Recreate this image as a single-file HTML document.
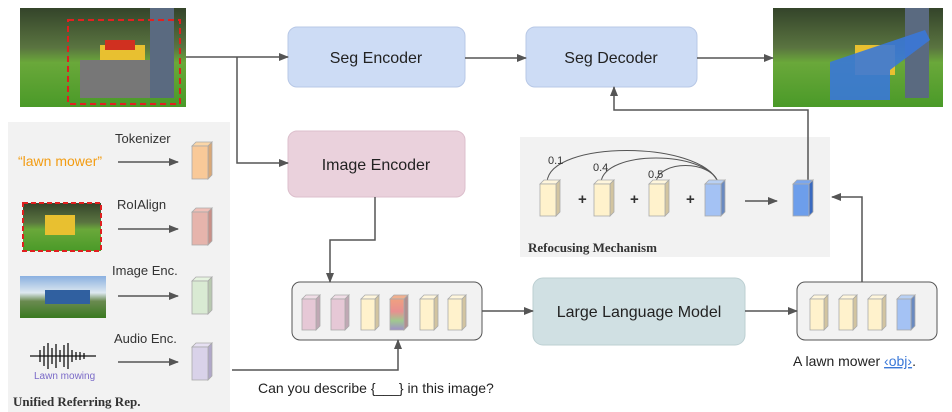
<!DOCTYPE html>
<html><head><meta charset="utf-8"><style>
html,body{margin:0;padding:0;background:#fff;}
svg{display:block;font-family:"Liberation Sans",sans-serif;}
</style></head><body>
<svg width="952" height="412" viewBox="0 0 952 412" xmlns="http://www.w3.org/2000/svg">
<defs>
<marker id="ar" markerWidth="10" markerHeight="8" refX="9" refY="4" orient="auto" markerUnits="userSpaceOnUse">
<path d="M0,0 L10,4 L0,8 Z" fill="#555"/></marker>
<linearGradient id="sky" x1="0" y1="0" x2="0" y2="1">
<stop offset="0" stop-color="#34442a"/><stop offset="0.4" stop-color="#5a7440"/><stop offset="0.55" stop-color="#6aa83a"/><stop offset="1" stop-color="#4a9a28"/></linearGradient>
<linearGradient id="mix" x1="0" y1="0" x2="0" y2="1">
<stop offset="0" stop-color="#f0a080"/><stop offset="0.4" stop-color="#e89090"/><stop offset="0.7" stop-color="#a0c890"/><stop offset="1" stop-color="#a090c8"/></linearGradient>
<linearGradient id="sky2" x1="0" y1="0" x2="0" y2="1">
<stop offset="0" stop-color="#8ab0e0"/><stop offset="0.4" stop-color="#dde8f0"/><stop offset="0.6" stop-color="#6a8a50"/><stop offset="1" stop-color="#3a7a20"/></linearGradient>
</defs>

<rect x="8" y="122" width="222" height="290" fill="#f2f2f2"/>
<rect x="520" y="137" width="310" height="120" fill="#f2f2f2"/>

<rect x="20" y="8" width="166" height="99" fill="url(#sky)"/>
<rect x="100" y="45" width="45" height="30" fill="#e8c030"/>
<rect x="105" y="40" width="30" height="10" fill="#d03020"/>
<rect x="80" y="60" width="80" height="38" fill="#777"/>
<rect x="150" y="8" width="24" height="90" fill="#5a6a80"/>
<rect x="68" y="20" width="112" height="84" fill="none" stroke="#e02020" stroke-width="2" stroke-dasharray="6,4"/>
<rect x="773" y="8" width="170" height="99" fill="url(#sky)"/>
<rect x="855" y="45" width="40" height="30" fill="#e8c030"/>
<rect x="905" y="8" width="24" height="90" fill="#5a6a80"/>
<path d="M830,62 L925,30 L930,40 L890,70 L890,100 L830,100 Z" fill="#3a78d8" opacity="0.9"/>

<rect x="288" y="27" width="177" height="60" rx="9" fill="#cddcf5" stroke="#b8c8e6"/>
<text x="376" y="63" text-anchor="middle" font-size="16" fill="#222">Seg Encoder</text>
<rect x="526" y="27" width="171" height="60" rx="9" fill="#cddcf5" stroke="#b8c8e6"/>
<text x="611" y="63" text-anchor="middle" font-size="16" fill="#222">Seg Decoder</text>
<rect x="288" y="131" width="177" height="66" rx="9" fill="#ead1dc" stroke="#dcbfcc"/>
<text x="376" y="170" text-anchor="middle" font-size="16" fill="#222">Image Encoder</text>
<rect x="533" y="278" width="212" height="67" rx="10" fill="#d0e0e3" stroke="#bccfd2"/>
<text x="639" y="317" text-anchor="middle" font-size="16" fill="#222">Large Language Model</text>
<rect x="292" y="282" width="190" height="58" rx="8" fill="#f2f2f2" stroke="#555"/>
<rect x="797" y="282" width="140" height="58" rx="8" fill="#f2f2f2" stroke="#555"/>

<g stroke="#555" stroke-width="1.5" fill="none">
<line x1="186" y1="57" x2="288" y2="57" marker-end="url(#ar)"/>
<polyline points="237,57 237,163 288,163" marker-end="url(#ar)"/>
<line x1="465" y1="58" x2="526" y2="58" marker-end="url(#ar)"/>
<line x1="697" y1="58" x2="773" y2="58" marker-end="url(#ar)"/>
<polyline points="808,182 808,110 614,110 614,87" marker-end="url(#ar)"/>
<polyline points="862,282 862,197 832,197" marker-end="url(#ar)"/>
<polyline points="375,197 375,240 330,240 330,282" marker-end="url(#ar)"/>
<polyline points="232,370 398,370 398,340" marker-end="url(#ar)"/>
<line x1="482" y1="311" x2="533" y2="311" marker-end="url(#ar)"/>
<line x1="745" y1="311" x2="797" y2="311" marker-end="url(#ar)"/>
<line x1="745" y1="201" x2="777" y2="201" marker-end="url(#ar)"/>
<line x1="118" y1="162" x2="178" y2="162" marker-end="url(#ar)"/>
<line x1="118" y1="229" x2="178" y2="229" marker-end="url(#ar)"/>
<line x1="118" y1="296" x2="178" y2="296" marker-end="url(#ar)"/>
<line x1="118" y1="362" x2="178" y2="362" marker-end="url(#ar)"/>
<path d="M547,182 C550,140 700,140 718,182" stroke="#555" stroke-width="1"/>
<path d="M601,182 C605,150 705,150 718,182" stroke="#555" stroke-width="1"/>
<path d="M656,182 C660,160 710,160 718,182" stroke="#555" stroke-width="1"/>
</g>

<g stroke="#aaa" stroke-width="0.8">
<g transform="translate(192,142)"><path d="M0,4 L4,0 L20,0 L16,4 Z" fill="#fbd6a8"/><path d="M16,4 L20,0 L20,33 L16,37 Z" fill="#d8a878"/><rect x="0" y="4" width="16" height="33" fill="#f9c998"/></g>
<g transform="translate(192,208)"><path d="M0,4 L4,0 L20,0 L16,4 Z" fill="#f0c0b8"/><path d="M16,4 L20,0 L20,33 L16,37 Z" fill="#c89088"/><rect x="0" y="4" width="16" height="33" fill="#e6b4ac"/></g>
<g transform="translate(192,277)"><path d="M0,4 L4,0 L20,0 L16,4 Z" fill="#e6f4e0"/><path d="M16,4 L20,0 L20,33 L16,37 Z" fill="#b8c8b0"/><rect x="0" y="4" width="16" height="33" fill="#d9ead3"/></g>
<g transform="translate(192,343)"><path d="M0,4 L4,0 L20,0 L16,4 Z" fill="#e6e0f2"/><path d="M16,4 L20,0 L20,33 L16,37 Z" fill="#b0a8c8"/><rect x="0" y="4" width="16" height="33" fill="#d9d2e9"/></g>
<g transform="translate(302,295)"><path d="M0,4 L4,0 L18,0 L14,4 Z" fill="#f0dde6"/><path d="M14,4 L18,0 L18,31 L14,35 Z" fill="#c0a8b4"/><rect x="0" y="4" width="14" height="31" fill="#e6c8d6"/></g>
<g transform="translate(331,295)"><path d="M0,4 L4,0 L18,0 L14,4 Z" fill="#f0dde6"/><path d="M14,4 L18,0 L18,31 L14,35 Z" fill="#c0a8b4"/><rect x="0" y="4" width="14" height="31" fill="#e6c8d6"/></g>
<g transform="translate(361,295)"><path d="M0,4 L4,0 L18,0 L14,4 Z" fill="#fff6dc"/><path d="M14,4 L18,0 L18,31 L14,35 Z" fill="#d2c4a0"/><rect x="0" y="4" width="14" height="31" fill="#fff2cc"/></g>
<g transform="translate(390,295)"><path d="M0,4 L4,0 L18,0 L14,4 Z" fill="#f0b090"/><path d="M14,4 L18,0 L18,31 L14,35 Z" fill="#b09090"/><rect x="0" y="4" width="14" height="31" fill="url(#mix)"/></g>
<g transform="translate(420,295)"><path d="M0,4 L4,0 L18,0 L14,4 Z" fill="#fff6dc"/><path d="M14,4 L18,0 L18,31 L14,35 Z" fill="#d2c4a0"/><rect x="0" y="4" width="14" height="31" fill="#fff2cc"/></g>
<g transform="translate(448,295)"><path d="M0,4 L4,0 L18,0 L14,4 Z" fill="#fff6dc"/><path d="M14,4 L18,0 L18,31 L14,35 Z" fill="#d2c4a0"/><rect x="0" y="4" width="14" height="31" fill="#fff2cc"/></g>
<g transform="translate(810,295)"><path d="M0,4 L4,0 L18,0 L14,4 Z" fill="#fff6dc"/><path d="M14,4 L18,0 L18,31 L14,35 Z" fill="#d2c4a0"/><rect x="0" y="4" width="14" height="31" fill="#fff2cc"/></g>
<g transform="translate(839,295)"><path d="M0,4 L4,0 L18,0 L14,4 Z" fill="#fff6dc"/><path d="M14,4 L18,0 L18,31 L14,35 Z" fill="#d2c4a0"/><rect x="0" y="4" width="14" height="31" fill="#fff2cc"/></g>
<g transform="translate(868,295)"><path d="M0,4 L4,0 L18,0 L14,4 Z" fill="#fff6dc"/><path d="M14,4 L18,0 L18,31 L14,35 Z" fill="#d2c4a0"/><rect x="0" y="4" width="14" height="31" fill="#fff2cc"/></g>
<g transform="translate(897,295)"><path d="M0,4 L4,0 L18,0 L14,4 Z" fill="#b8d0f4"/><path d="M14,4 L18,0 L18,31 L14,35 Z" fill="#6a8ac0"/><rect x="0" y="4" width="14" height="31" fill="#a4c2f4"/></g>
<g transform="translate(540,180)"><path d="M0,4 L4,0 L20,0 L16,4 Z" fill="#fff6dc"/><path d="M16,4 L20,0 L20,32 L16,36 Z" fill="#d2c4a0"/><rect x="0" y="4" width="16" height="32" fill="#fff2cc"/></g>
<g transform="translate(594,180)"><path d="M0,4 L4,0 L20,0 L16,4 Z" fill="#fff6dc"/><path d="M16,4 L20,0 L20,32 L16,36 Z" fill="#d2c4a0"/><rect x="0" y="4" width="16" height="32" fill="#fff2cc"/></g>
<g transform="translate(649,180)"><path d="M0,4 L4,0 L20,0 L16,4 Z" fill="#fff6dc"/><path d="M16,4 L20,0 L20,32 L16,36 Z" fill="#d2c4a0"/><rect x="0" y="4" width="16" height="32" fill="#fff2cc"/></g>
<g transform="translate(705,180)"><path d="M0,4 L4,0 L20,0 L16,4 Z" fill="#b8d0f4"/><path d="M16,4 L20,0 L20,32 L16,36 Z" fill="#6a8ac0"/><rect x="0" y="4" width="16" height="32" fill="#a4c2f4"/></g>
<g transform="translate(793,180)"><path d="M0,4 L4,0 L20,0 L16,4 Z" fill="#7aa6ee"/><path d="M16,4 L20,0 L20,32 L16,36 Z" fill="#3a6ac0"/><rect x="0" y="4" width="16" height="32" fill="#6d9eeb"/></g>
</g>

<text x="548" y="164" font-size="11" fill="#333">0.1</text>
<text x="593" y="171" font-size="11" fill="#333">0.4</text>
<text x="648" y="178" font-size="11" fill="#333">0.5</text>
<text x="578" y="204" font-size="15" fill="#333" font-weight="bold">+</text>
<text x="630" y="204" font-size="15" fill="#333" font-weight="bold">+</text>
<text x="686" y="204" font-size="15" fill="#333" font-weight="bold">+</text>
<text x="528" y="252" font-size="13" font-weight="bold" fill="#333" font-family="Liberation Serif,serif">Refocusing Mechanism</text>

<text x="115" y="143" font-size="13" fill="#333">Tokenizer</text>
<text x="18" y="166" font-size="14" fill="#f39c12">“lawn mower”</text>
<text x="117" y="209" font-size="13" fill="#333">RoIAlign</text>
<rect x="23" y="203" width="78" height="48" fill="url(#sky)"/>
<rect x="45" y="215" width="30" height="20" fill="#e8c030"/>
<rect x="23" y="203" width="78" height="48" fill="none" stroke="#e02020" stroke-width="2" stroke-dasharray="5,3"/>
<text x="112" y="275" font-size="13" fill="#333">Image Enc.</text>
<rect x="20" y="276" width="86" height="42" fill="url(#sky2)"/>
<rect x="45" y="290" width="45" height="14" fill="#3060a0"/>
<text x="114" y="343" font-size="13" fill="#333">Audio Enc.</text>
<g stroke="#111" stroke-width="1.3">
<line x1="30" y1="356" x2="96" y2="356"/>
<line x1="40" y1="350" x2="40" y2="362"/><line x1="44" y1="346" x2="44" y2="366"/><line x1="48" y1="343" x2="48" y2="369"/><line x1="52" y1="348" x2="52" y2="364"/><line x1="56" y1="344" x2="56" y2="368"/><line x1="60" y1="350" x2="60" y2="362"/><line x1="64" y1="345" x2="64" y2="367"/><line x1="68" y1="343" x2="68" y2="369"/><line x1="72" y1="350" x2="72" y2="362"/><line x1="76" y1="352" x2="76" y2="360"/><line x1="80" y1="352" x2="80" y2="360"/><line x1="84" y1="353" x2="84" y2="359"/>
</g>
<text x="34" y="379" font-size="10" fill="#7a6ac8">Lawn mowing</text>
<text x="13" y="406" font-size="13" font-weight="bold" fill="#333" font-family="Liberation Serif,serif">Unified Referring Rep.</text>

<text x="258" y="393" font-size="14" fill="#222">Can you describe {___} in this image?</text>
<text x="793" y="366" font-size="14" fill="#222">A lawn mower <tspan fill="#3a78d8" text-decoration="underline">‹obj›</tspan>.</text>
</svg>
</body></html>
